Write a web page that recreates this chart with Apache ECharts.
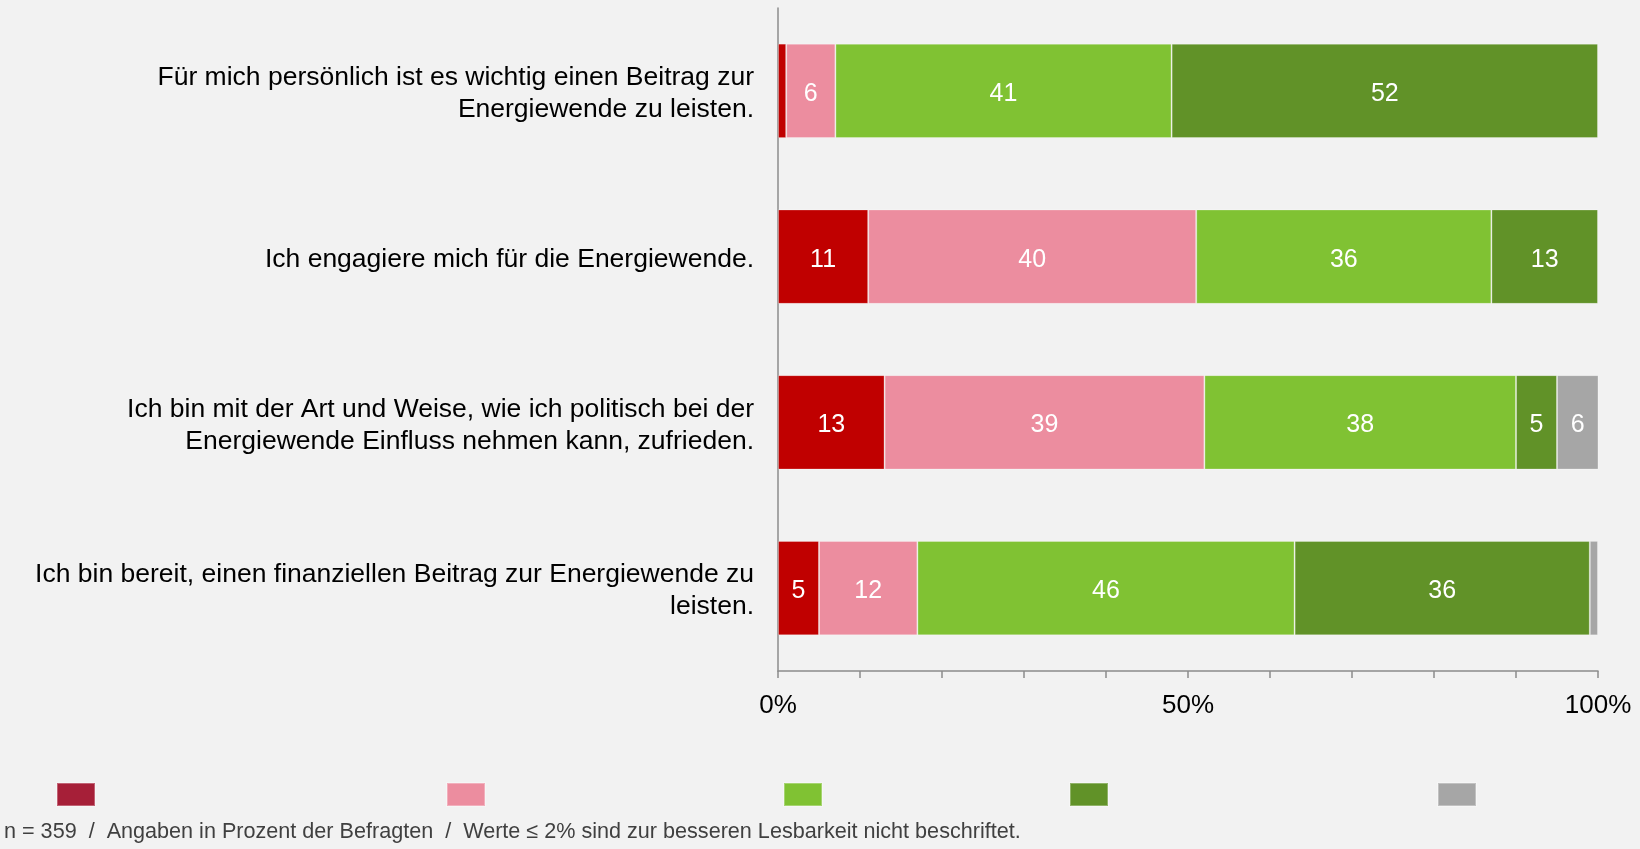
<!DOCTYPE html>
<html>
<head>
<meta charset="utf-8">
<script src="https://cdn.jsdelivr.net/npm/echarts@6/dist/echarts.min.js"></script>
<style>
  html, body { margin: 0; padding: 0; background: #F2F2F2; }
  #chart { width: 1640px; height: 849px; }
</style>
</head>
<body>
<div id="chart"></div>
<script>
// Statements (top to bottom)
const statements = [
  'Für mich persönlich ist es wichtig einen Beitrag zur\nEnergiewende zu leisten.',
  'Ich engagiere mich für die Energiewende.',
  'Ich bin mit der Art und Weise, wie ich politisch bei der\nEnergiewende Einfluss nehmen kann, zufrieden.',
  'Ich bin bereit, einen finanziellen Beitrag zur Energiewende zu\nleisten.'
];

// Answer categories
const answerNames = ['trifft gar nicht zu', 'trifft eher nicht zu', 'trifft eher zu', 'trifft voll zu', 'weiß nicht'];

// Shares in percent per answer category, one value per statement
const gar_nicht   = [1, 11, 13, 5];
const eher_nicht  = [6, 40, 39, 12];
const eher        = [41, 36, 38, 46];
const voll        = [52, 13, 5, 36];
const weiss_nicht = [0.4, 0.3, 6, 1];

// Axis tick labels
const tickLabels = { 0: '0%', 50: '50%', 100: '100%' };

const footnote = 'n = 359  /  Angaben in Prozent der Befragten  /  Werte ≤ 2% sind zur besseren Lesbarkeit nicht beschriftet.';

const seriesValues = [gar_nicht, eher_nicht, eher, voll, weiss_nicht];
const barColors    = ['#C00000', '#EC8D9F', '#80C233', '#619228', '#A6A6A6'];
const legendColors = ['#A61F38', '#EC8D9F', '#80C233', '#619228', '#A6A6A6'];
const legendLeft   = [56, 446, 783, 1069, 1437];

const font = '"Liberation Sans", Arial, sans-serif';

const chart = echarts.init(document.getElementById('chart'), null, { renderer: 'canvas' });

const series = answerNames.map((name, i) => ({
  name: name,
  type: 'bar',
  stack: 'total',
  barWidth: '57%',
  data: seriesValues[i],
  itemStyle: { color: barColors[i], borderColor: 'rgba(255,255,255,0.3)', borderWidth: 1 },
  label: {
    show: true,
    position: 'inside',
    offset: [0, 3],
    color: '#FFFFFF',
    fontFamily: font,
    fontSize: 25,
    formatter: p => (p.value > 2 ? String(Math.round(p.value)) : '')
  },
  emphasis: { disabled: true }
}));

// one legend per swatch so each can sit at its own horizontal position
const legends = answerNames.map((name, i) => ({
  left: legendLeft[i],
  top: 782,
  padding: 0,
  itemWidth: 38,
  itemHeight: 23,
  itemGap: 0,
  icon: 'rect',
  selectedMode: false,
  formatter: () => '',
  data: [{ name: name, itemStyle: { color: legendColors[i] } }]
}));

chart.setOption({
  backgroundColor: '#F2F2F2',
  animation: false,
  legend: legends,
  grid: { left: 778, right: 42, top: 8, bottom: 178, containLabel: false },
  xAxis: {
    type: 'value',
    min: 0,
    max: 100,
    interval: 10,
    axisLine: { show: true, lineStyle: { color: '#8C8C8C', width: 1.5 } },
    axisTick: { show: true, length: 7, lineStyle: { color: '#8C8C8C', width: 1.5 } },
    splitLine: { show: false },
    axisLabel: {
      margin: 22,
      color: '#000000',
      fontFamily: font,
      fontSize: 26,
      formatter: v => tickLabels[v] || ''
    }
  },
  yAxis: {
    type: 'category',
    inverse: true,
    data: statements,
    axisLine: { show: true, lineStyle: { color: '#8C8C8C', width: 1.5 } },
    axisTick: { show: false },
    axisLabel: {
      margin: 24,
      color: '#000000',
      fontFamily: font,
      fontSize: 26.5,
      lineHeight: 32,
      align: 'right',
      // a thin spacer line on top nudges the text block slightly downward
      formatter: v => '{sp| }\n' + v,
      rich: { sp: { fontSize: 1, lineHeight: 6 } }
    }
  },
  series: series,
  graphic: [{
    type: 'text',
    left: 4,
    top: 821,
    style: {
      text: footnote,
      fill: '#404040',
      font: '21.6px ' + font
    }
  }]
});
</script>
</body>
</html>
